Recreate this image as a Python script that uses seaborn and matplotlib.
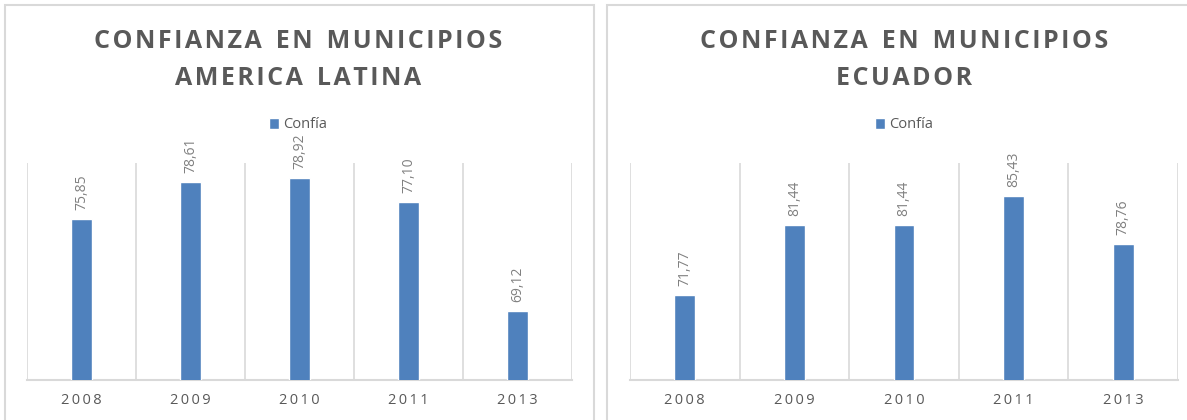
import matplotlib
matplotlib.use("Agg")
import matplotlib.pyplot as plt
from matplotlib.patches import Rectangle
import pandas as pd
import seaborn as sns

# Data
anios = ["2008", "2009", "2010", "2011", "2013"]
confia_al = [75.85, 78.61, 78.92, 77.10, 69.12]
confia_ec = [71.77, 81.44, 81.44, 85.43, 78.76]
serie = "Confía"
titulo_al = "CONFIANZA EN MUNICIPIOS\nAMERICA LATINA"
titulo_ec = "CONFIANZA EN MUNICIPIOS\nECUADOR"

sns.set_theme(style="white")
plt.rcParams["font.family"] = ["Open Sans", "DejaVu Sans"]

AZUL = "#4f81bd"
GRIS_TXT = "#595959"
GRIS_VAL = "#808080"
GRIS_LIN = "#d9d9d9"

W, H = 1187, 420
fig = plt.figure(figsize=(W / 100, H / 100), dpi=100)


def espaciar(txt, sep="\u200a"):
    """Letter-spaced version of a (possibly multi-line) string."""
    lineas = []
    for l in txt.split("\n"):
        palabras = [sep.join(list(w)) for w in l.split(" ")]
        lineas.append((sep + " " + sep + sep).join(palabras))
    return "\n".join(lineas)


def px(x0, y0, x1, y1):
    return [x0 / W, 1 - y1 / H, (x1 - x0) / W, (y1 - y0) / H]


paneles = [
    dict(vals=confia_al, titulo=titulo_al, ax=px(27, 163, 572, 380), ylim=(64, 80),
         marco=(5, 5, 594, 430), cx=298),
    dict(vals=confia_ec, titulo=titulo_ec, ax=px(630, 163, 1178, 380), ylim=(60, 90),
         marco=(607, 5, 1195, 430), cx=904),
]

for p in paneles:
    x0, y0, x1, y1 = p["marco"]
    fig.patches.append(Rectangle((x0 / W, 1 - y1 / H), (x1 - x0) / W, (y1 - y0) / H,
                                 transform=fig.transFigure, fill=False,
                                 edgecolor=GRIS_LIN, linewidth=1.5, zorder=0))

    df = pd.DataFrame({"anio": anios, "valor": p["vals"]})
    ax = fig.add_axes(p["ax"])
    sns.barplot(data=df, x="anio", y="valor", color=AZUL, width=0.19,
                saturation=1, label=serie, ax=ax, zorder=3)
    ax.set_ylim(*p["ylim"])
    ax.set_xlim(-0.5, len(anios) - 0.5)
    for k in range(len(anios) + 1):
        ax.axvline(k - 0.5, color=GRIS_LIN, linewidth=1.2, zorder=1)
    for s in ["top", "left", "right"]:
        ax.spines[s].set_visible(False)
    ax.spines["bottom"].set_color(GRIS_LIN)
    ax.spines["bottom"].set_linewidth(1.5)
    ax.set_yticks([])
    ax.set_xlabel("")
    ax.set_ylabel("")
    ax.set_xticks(range(len(anios)))
    ax.set_xticklabels(["\u2009".join(list(a)) for a in anios], color=GRIS_TXT, fontsize=10.5)
    ax.tick_params(axis="x", length=0, pad=9)

    for bar, v in zip(ax.patches, p["vals"]):
        ax.annotate(f"{v:.2f}".replace(".", ","),
                    (bar.get_x() + bar.get_width() / 2, bar.get_height()),
                    xytext=(0, 6.5), textcoords="offset points", rotation=90,
                    ha="center", va="bottom", color=GRIS_VAL, fontsize=10, zorder=2)

    fig.text(p["cx"] / W, 1 - 60 / H, espaciar(p["titulo"]), ha="center", va="center",
             fontsize=18, fontweight="bold", color=GRIS_TXT, linespacing=1.65)
    leg = ax.legend(loc="center", bbox_to_anchor=(p["cx"] / W, 1 - 125 / H),
                    bbox_transform=fig.transFigure, frameon=False, fontsize=10.5,
                    handlelength=0.7, handleheight=0.7, handletextpad=0.3,
                    labelcolor=GRIS_TXT)

fig.savefig("out.png", dpi=100)
